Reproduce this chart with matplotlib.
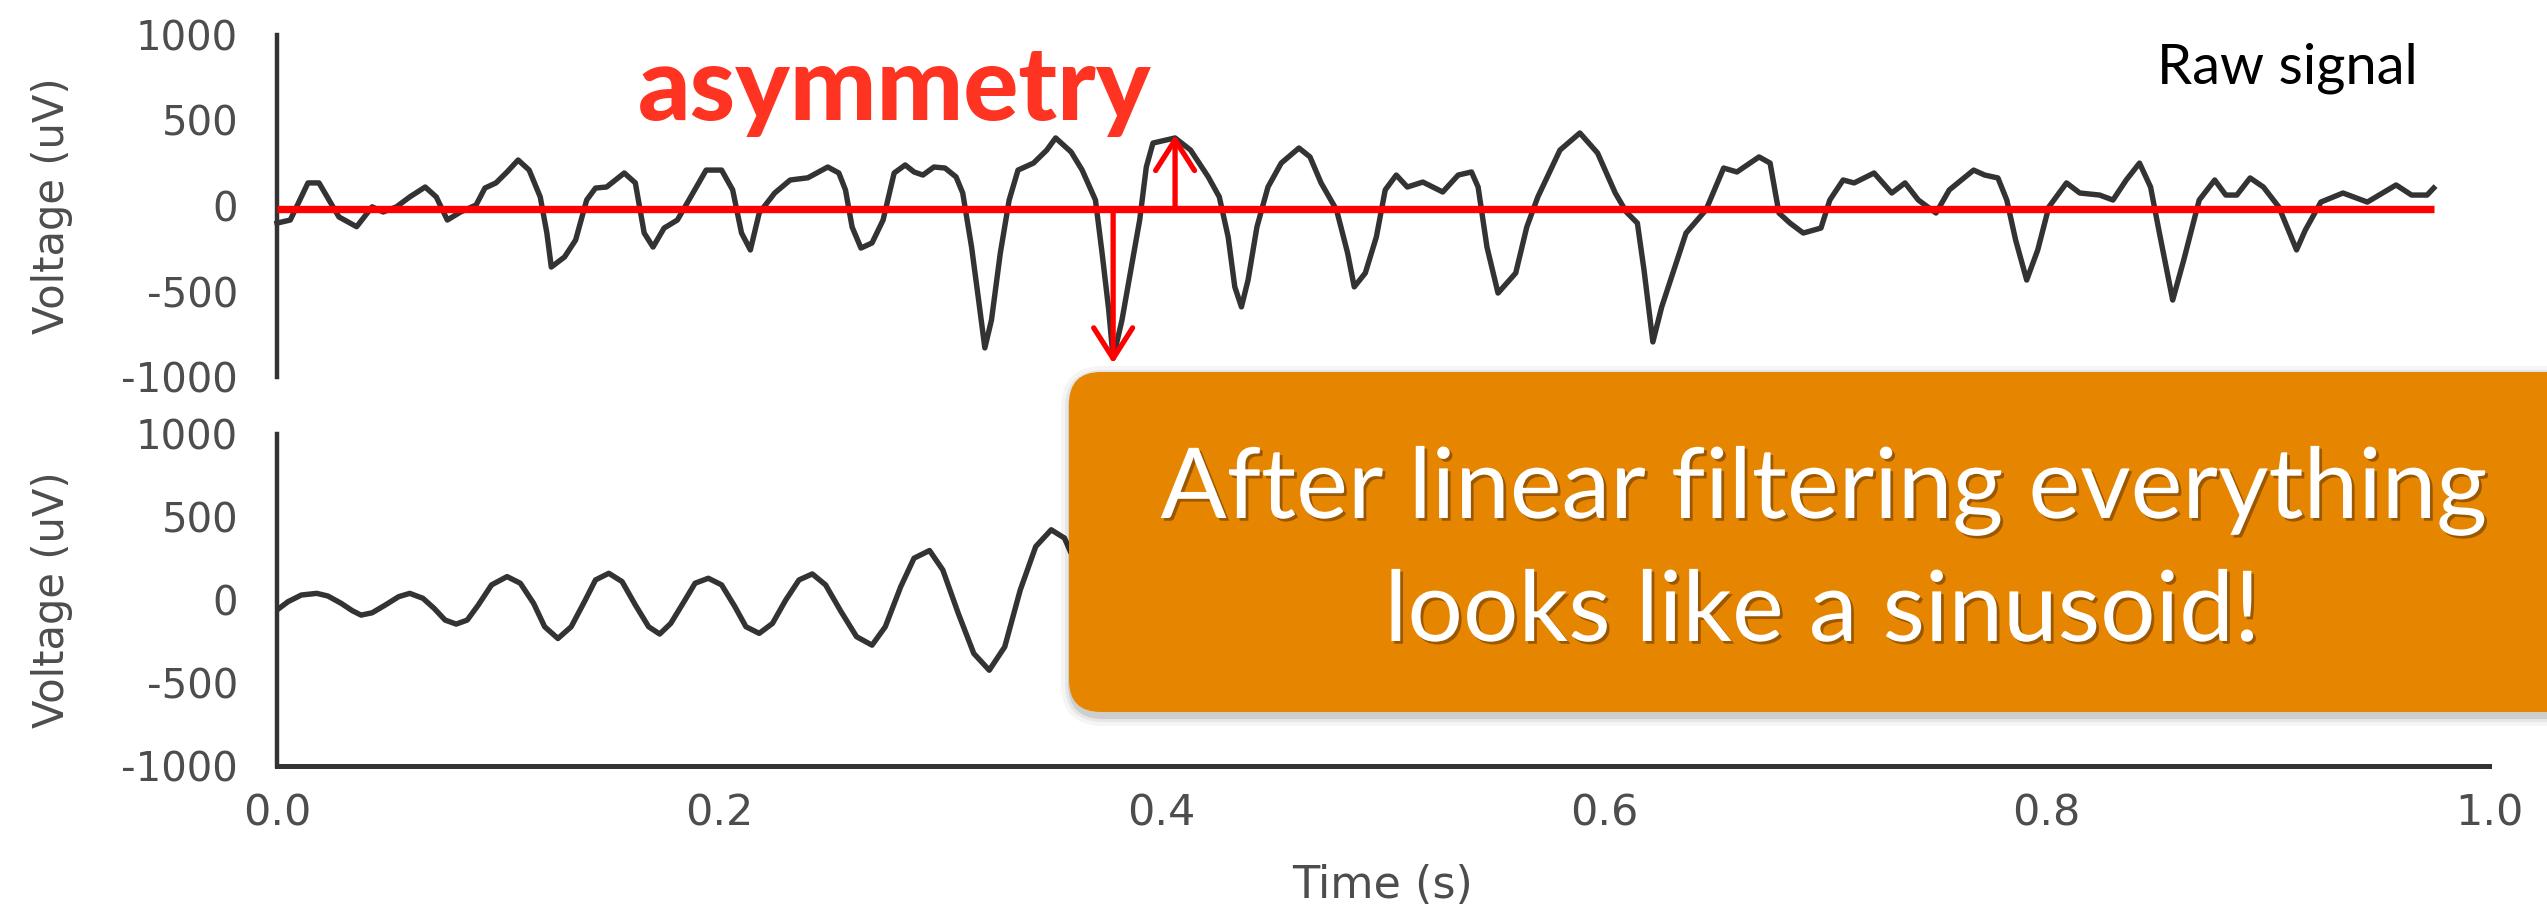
import matplotlib
matplotlib.use("Agg")
import matplotlib.pyplot as plt
import matplotlib.patheffects as pe
from matplotlib.patches import FancyBboxPatch

plt.rcParams["axes.unicode_minus"] = False

# raw recording, time (s) and voltage (uV)
raw_time = [
    0.000, 0.006, 0.014, 0.019, 0.028, 0.036, 0.043, 0.048, 0.054, 0.060,
    0.067, 0.072, 0.077, 0.083, 0.090, 0.094, 0.099, 0.104, 0.109, 0.114,
    0.119, 0.122, 0.124, 0.130, 0.135, 0.140, 0.144, 0.149, 0.157, 0.162,
    0.166, 0.170, 0.175, 0.181, 0.187, 0.194, 0.201, 0.206, 0.210, 0.214,
    0.218, 0.225, 0.232, 0.240, 0.249, 0.254, 0.257, 0.260, 0.264, 0.269,
    0.274, 0.279, 0.284, 0.288, 0.292, 0.297, 0.302, 0.307, 0.310, 0.314,
    0.317, 0.320, 0.323, 0.327, 0.331, 0.335, 0.342, 0.348, 0.352, 0.359,
    0.364, 0.370, 0.373, 0.376, 0.378, 0.382, 0.386, 0.390, 0.393, 0.396,
    0.402, 0.406, 0.413, 0.421, 0.426, 0.430, 0.433, 0.436, 0.439, 0.443,
    0.448, 0.454, 0.462, 0.467, 0.472, 0.479, 0.484, 0.487, 0.492, 0.497,
    0.501, 0.506, 0.511, 0.518, 0.527, 0.534, 0.540, 0.543, 0.547, 0.552,
    0.560, 0.565, 0.570, 0.580, 0.589, 0.597, 0.605, 0.610, 0.615, 0.618,
    0.622, 0.626, 0.633, 0.637, 0.646, 0.654, 0.660, 0.670, 0.675, 0.679,
    0.684, 0.690, 0.698, 0.702, 0.708, 0.713, 0.722, 0.730, 0.736, 0.742,
    0.750, 0.756, 0.767, 0.772, 0.778, 0.782, 0.786, 0.791, 0.796, 0.801,
    0.809, 0.815, 0.824, 0.830, 0.836, 0.842, 0.847, 0.851, 0.857, 0.862,
    0.869, 0.876, 0.881, 0.886, 0.892, 0.898, 0.905, 0.913, 0.917, 0.924,
    0.934, 0.945, 0.958, 0.965, 0.972, 0.975,
]
raw_uv = [
    -100, -82, 135, 135, -64, -121, -5, -35, -5, 53,
    111, 53, -82, -35, 6, 105, 135, 199, 269, 210,
    53, -158, -357, -298, -199, 35, 105, 111, 193, 135,
    -158, -240, -129, -82, 53, 210, 210, 94, -158, -257,
    -41, 76, 152, 165, 228, 193, 94, -123, -246, -216,
    -82, 193, 240, 199, 181, 228, 222, 170, 76, -240,
    -532, -830, -667, -275, 35, 210, 251, 327, 398, 316,
    210, 35, -275, -608, -890, -667, -374, -82, 228, 368,
    386, 398, 327, 170, 53, -181, -473, -590, -433, -123,
    111, 251, 339, 287, 135, -23, -275, -473, -392, -181,
    94, 181, 111, 140, 82, 181, 199, 111, -240, -509,
    -392, -123, 53, 327, 427, 310, 76, -35, -100, -374,
    -795, -590, -316, -158, -23, 222, 199, 287, 251, -41,
    -100, -158, -129, 35, 152, 135, 193, 76, 135, 35,
    -41, 94, 210, 181, 164, 35, -199, -433, -257, -6,
    135, 76, 64, 35, 152, 251, 111, -158, -550, -316,
    35, 152, 64, 64, 164, 111, -6, -257, -140, 23,
    76, 23, 123, 64, 64, 105,
]

# band-pass filtered recording (visible part)
filtered_time = [
    0.000, 0.005, 0.011, 0.018, 0.023, 0.029, 0.034, 0.038, 0.043, 0.049,
    0.055, 0.060, 0.066, 0.071, 0.076, 0.081, 0.086, 0.091, 0.097, 0.104,
    0.110, 0.116, 0.121, 0.127, 0.133, 0.139, 0.144, 0.150, 0.156, 0.162,
    0.168, 0.173, 0.178, 0.184, 0.189, 0.195, 0.201, 0.207, 0.212, 0.218,
    0.224, 0.230, 0.236, 0.242, 0.248, 0.255, 0.262, 0.269, 0.275, 0.282,
    0.288, 0.295, 0.301, 0.308, 0.315, 0.322, 0.329, 0.336, 0.343, 0.350,
    0.356, 0.359,
]
filtered_uv = [
    -60, -10, 30, 40, 24, -20, -64, -91, -77, -30,
    20, 40, 10, -50, -121, -145, -121, -30, 91, 141,
    101, -20, -161, -232, -161, -10, 121, 161, 111, -30,
    -161, -205, -141, -10, 101, 131, 91, -40, -161, -201,
    -141, 0, 121, 157, 91, -70, -221, -272, -161, 81,
    252, 298, 181, -81, -322, -423, -282, 60, 322, 423,
    373, 282,
]

voltage_ticks = [-1000, -500, 0, 500, 1000]
time_ticks = [0.0, 0.2, 0.4, 0.6, 0.8, 1.0]

# zero reference and the two excursions marked with arrows
zero_level_uv = -20
peak_time, peak_uv = 0.406, 415
trough_time, trough_uv = 0.378, -920

W, H = 2547, 909
fig = plt.figure(figsize=(W / 100, H / 100), dpi=100)


def add_axes_px(left, top, right, bottom):
    return fig.add_axes([left / W, 1 - bottom / H, (right - left) / W, (bottom - top) / H])


signal_color = "#333333"
tick_color = "#4d4d4d"

ax_raw = add_axes_px(277, 35, 2489, 377)
ax_filt = add_axes_px(277, 434, 2489, 766)

for ax in (ax_raw, ax_filt):
    ax.set_xlim(0, 1.0)
    ax.set_ylim(-1000, 1000)
    ax.patch.set_alpha(0)
    for side in ("top", "right"):
        ax.spines[side].set_visible(False)
    ax.spines["left"].set_linewidth(3.2)
    ax.spines["left"].set_color(signal_color)
    ax.set_yticks(voltage_ticks)
    ax.tick_params(axis="y", length=0, pad=28, labelsize=29, labelcolor=tick_color)
    ax.set_ylabel("Voltage (uV)", fontsize=30, color=tick_color)
    ax.yaxis.set_label_coords((52 - 277) / 2212, 0.5)
    ax.yaxis.label.set_va("center")

ax_raw.spines["bottom"].set_visible(False)
ax_raw.set_xticks([])

ax_filt.spines["bottom"].set_linewidth(3.6)
ax_filt.spines["bottom"].set_color(signal_color)
ax_filt.set_xticks(time_ticks)
ax_filt.set_xticklabels([f"{t:.1f}" for t in time_ticks])
ax_filt.tick_params(axis="x", length=0, pad=19, labelsize=31, labelcolor=tick_color)
ax_filt.set_xlabel("Time (s)", fontsize=32, color=tick_color)
ax_filt.xaxis.set_label_coords(0.5, (766 - 885) / 332)
ax_filt.xaxis.label.set_va("center")

ax_raw.plot(raw_time, raw_uv, color=signal_color, lw=3.9,
            solid_joinstyle="round", clip_on=False)
ax_filt.plot(filtered_time, filtered_uv, color=signal_color, lw=3.9,
             solid_joinstyle="round", solid_capstyle="butt")

# zero line and asymmetry arrows
ax_raw.plot([raw_time[0], raw_time[-1]], [zero_level_uv, zero_level_uv],
            color="#ff0000", lw=5.3, solid_capstyle="butt", clip_on=False, zorder=3)
arrow_style = dict(arrowstyle="->,head_length=1.1,head_width=0.7", color="#ff0000",
                   lw=3.8, mutation_scale=20, shrinkA=0, shrinkB=0, capstyle="round")
ax_raw.annotate("", xy=(trough_time, trough_uv), xytext=(trough_time, zero_level_uv),
                arrowprops=arrow_style, zorder=4)
ax_raw.annotate("", xy=(peak_time, peak_uv), xytext=(peak_time, zero_level_uv),
                arrowprops=arrow_style, zorder=4)

# overlay in pixel coordinates for the callout and annotations
ov = fig.add_axes([0, 0, 1, 1], zorder=10)
ov.set_xlim(0, W)
ov.set_ylim(H, 0)
ov.set_axis_off()

box_x, box_y, box_w, box_h = 1069, 372, 1600, 340
for grow, alpha in [(10, 0.04), (6, 0.06), (3, 0.10)]:
    ov.add_patch(FancyBboxPatch((box_x - grow + 2, box_y - grow + 4), box_w + 2 * grow,
                                box_h + 2 * grow,
                                boxstyle=f"round,pad=0,rounding_size={32 + grow}",
                                fc="black", ec="none", alpha=alpha))
ov.add_patch(FancyBboxPatch((box_x, box_y), box_w, box_h,
                            boxstyle="round,pad=0,rounding_size=32",
                            fc="#e68500", ec="none"))

renderer = fig.canvas.get_renderer()


def fit_to_width(txt, width_px):
    w = txt.get_window_extent(renderer).width
    txt.set_fontsize(txt.get_fontsize() * width_px / w)


text_shadow = [pe.withSimplePatchShadow(offset=(2, -2), shadow_rgbFace="#6b3a00", alpha=0.6)]
line1 = ov.text(1823, 518, "After linear filtering everything", ha="center", va="baseline",
                color="white", fontsize=70, family="Lato", path_effects=text_shadow)
fit_to_width(line1, 1327)
ov.text(1822, 641, "looks like a sinusoid!", ha="center", va="baseline",
        color="white", fontsize=line1.get_fontsize(), family="Lato",
        path_effects=text_shadow)

label_asym = ov.text(895, 120, "asymmetry", ha="center", va="baseline", color="#ff3322",
                     fontsize=60, family="Lato", fontweight="black")
fit_to_width(label_asym, 514)

label_raw = ov.text(2287, 83, "Raw signal", ha="center", va="baseline", color="black",
                    fontsize=30, family="Lato")
fit_to_width(label_raw, 261)

fig.savefig("out.png", dpi=100)
